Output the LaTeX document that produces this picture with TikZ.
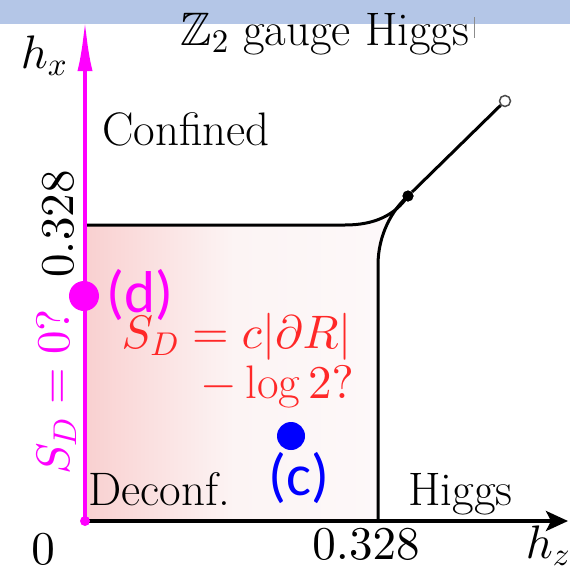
\documentclass[tikz,border=0pt]{standalone}
\usepackage{amssymb}
\usepackage{fontspec}
\DeclareFontShape{OML}{cmm}{m}{it}{<->cmmi10}{}
\DeclareFontShape{OT1}{cmr}{m}{n}{<->cmr10}{}
\DeclareFontShape{OMS}{cmsy}{m}{n}{<->cmsy10}{}
\DeclareFontShape{OMX}{cmex}{m}{n}{<->cmex10}{}
\newfontfamily\calibri{Carlito}
\usetikzlibrary{arrows.meta}
\definecolor{band}{RGB}{180,198,231}
\definecolor{mag}{RGB}{255,0,255}
\definecolor{rtxt}{RGB}{255,40,40}
\definecolor{bdot}{RGB}{0,0,255}
\definecolor{pkA}{RGB}{249,208,208}
\definecolor{pkB}{RGB}{252,244,244}
\definecolor{pkC}{RGB}{253,249,250}
\pgfdeclarehorizontalshading{pinkfade}{100bp}{color(0bp)=(pkA); color(25bp)=(pkA); color(48bp)=(pkB); color(75bp)=(pkC); color(100bp)=(pkC)}
\begin{document}
\begin{tikzpicture}[x=1pt,y=-1pt,
  lbl/.style={inner sep=0pt, font=\fontsize{47}{56}\selectfont},
  sflbl/.style={inner sep=0pt, font=\calibri\fontsize{59}{66}\selectfont},
  bl/.style={line width=3pt, black},
  axisline/.style={line width=3.5pt, black, -{Stealth[length=22pt,width=20pt,inset=5pt]}},
  maxis/.style={line width=4.5pt, mag, -{Latex[length=52pt,width=15pt]}},
  tdot/.style={circle, fill=black, inner sep=0pt, minimum size=11pt},
  odot/.style={circle, draw=black!70, line width=1.5pt, fill=white, inner sep=0pt, minimum size=11pt},
  bigdot/.style={circle, inner sep=0pt, minimum size=30pt}]
\useasboundingbox (0,0) rectangle (570,570);
\fill[white] (0,0) rectangle (570,570);
\fill[band] (0,0) rectangle (570,24);
% shaded deconfined region
\shade[shading=pinkfade] (85,521) -- (85,225) -- (345,225) .. controls (375,225) and (395,215) .. (408,196) .. controls (392,210) and (378,235) .. (378,265) -- (378,521) -- cycle;
% nodes
\coordinate (O) at (85,521);
\coordinate (xe) at (568,521);
\coordinate (ye) at (85,19);
\coordinate (hl) at (85,225);
\coordinate (vb) at (378,521);
\node[tdot] (tp) at (408,196) {};
\node[odot] (oc) at (505,101) {};
% phase boundaries
\draw[bl] (hl) -- (345,225) .. controls (375,225) and (395,215) .. (tp.center);
\draw[bl] (vb) -- (378,265) .. controls (378,235) and (392,210) .. (tp.center);
\draw[bl] (tp) -- (oc);
\node[tdot] at (tp) {};
% axes
\draw[axisline] (O) -- (xe);
\draw[maxis] (O) -- (ye);
\fill[mag] (O) circle (5pt);
% title
\node[lbl, anchor=base] (title) at (325,45) {$\mathbb{Z}_2$ gauge Higgs};
\draw[black!45, line width=0.8pt] (474,17) -- (474,38);
% labels
\node[lbl, anchor=base] (hx) at (44,68) {$h_x$};
\node[lbl, anchor=base] (hz) at (548,558) {$h_z$};
\node[lbl, anchor=base] (zero) at (43,564) {$0$};
\node[lbl, anchor=base] (tz) at (366,559) {$0.328$};
\node[lbl, anchor=base, rotate=90] (tx) at (73,224) {$0.328$};
\node[lbl, anchor=base, rotate=90, text=mag] (sd0) at (69,392) {$S_D=0?$};
\node[lbl, anchor=base west] (conf) at (102,145) {Confined};
\node[lbl, anchor=base west] (dec) at (88,505) {Deconf.};
\node[lbl, anchor=base west] (hig) at (408,505) {Higgs};
\node[lbl, anchor=base east, text=rtxt] (sd1) at (352,348) {$S_D=c|\partial R|$};
\node[lbl, anchor=base east, text=rtxt] (sd2) at (354,398) {$-\log 2?$};
% points
\node[bigdot, fill=mag] (d) at (84,296) {};
\node[sflbl, text=mag] (dl) at (140,295) {(d)};
\node[bigdot, fill=bdot, minimum size=28pt] (c) at (291,436) {};
\node[sflbl, text=bdot] (cl) at (299,478) {(c)};
\end{tikzpicture}
\end{document}
